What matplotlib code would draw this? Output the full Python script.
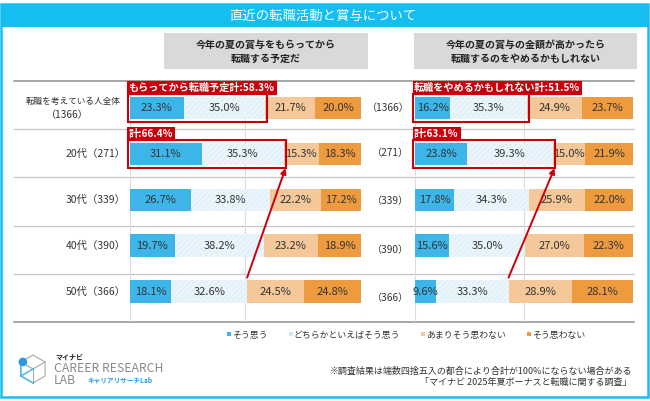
import matplotlib.pyplot as plt
from matplotlib.patches import Rectangle, Polygon, Circle
from matplotlib.lines import Line2D
import numpy as np

plt.rcParams['font.family'] = ['Noto Sans CJK JP', 'DejaVu Sans']
plt.rcParams['hatch.linewidth'] = 0.5

# ---- data ----
groups = ['転職を考えている人全体', '20代', '30代', '40代', '50代']
counts = [1366, 271, 339, 390, 366]

# 今年の夏の賞与をもらってから転職する予定だ
left_yes = [23.3, 31.1, 26.7, 19.7, 18.1]
left_maybe = [35.0, 35.3, 33.8, 38.2, 32.6]
left_rather_not = [21.7, 15.3, 22.2, 23.2, 24.5]
left_no = [20.0, 18.3, 17.2, 18.9, 24.8]

# 今年の夏の賞与の金額が高かったら転職するのをやめるかもしれない
right_yes = [16.2, 23.8, 17.8, 15.6, 9.6]
right_maybe = [35.3, 39.3, 34.3, 35.0, 33.3]
right_rather_not = [24.9, 15.0, 25.9, 27.0, 28.9]
right_no = [23.7, 21.9, 22.0, 22.3, 28.1]

title = '直近の転職活動と賞与について'
left_title = '今年の夏の賞与をもらってから\n転職する予定だ'
right_title = '今年の夏の賞与の金額が高かったら\n転職するのをやめるかもしれない'
left_prefix = ['もらってから転職予定計', '計']
right_prefix = ['転職をやめるかもしれない計', '計']
legend_labels = ['そう思う', 'どちらかといえばそう思う', 'あまりそう思わない', 'そう思わない']
notes = ['※調査結果は端数四捨五入の都合により合計が100%にならない場合がある',
         '「マイナビ 2025年夏ボーナスと転職に関する調査」']

colors = ['#3DB5E9', '#EAF5FC', '#F4C899', '#EE9B40']
RED = '#C9000B'
CYAN = '#14BEF0'

W, H = 650, 401
ROW0, STEP = 108, 45.9
TOP, BOT = 80.7, 322

fig = plt.figure(figsize=(6.5, 4.01), dpi=100)
bg = fig.add_axes([0, 0, 1, 1])
bg.set_xlim(0, W)
bg.set_ylim(H, 0)
bg.axis('off')

# frame + title bar
bg.add_patch(Rectangle((1.2, 4), 646.3, 392.5, fill=False, ec=CYAN, lw=1.8))
bg.add_patch(Rectangle((1.2, 4), 646.3, 23, color=CYAN, lw=0))
bg.text(323, 15.5, title, color='white', fontsize=9.6, ha='center', va='center')

# header boxes
bg.add_patch(Rectangle((164, 33), 204, 36, color='#D9D9D9', lw=0))
bg.add_patch(Rectangle((414, 33), 223, 36, color='#D9D9D9', lw=0))
bg.text(266, 51.5, left_title, fontsize=7.2, ha='center', va='center',
        linespacing=1.55, color='#222222', fontweight='bold')
bg.text(525.5, 51.5, right_title, fontsize=7.2, ha='center', va='center',
        linespacing=1.55, color='#222222', fontweight='bold')

# separators
seps = [80.7, 129, 177, 226, 274, 322]
for i, s in enumerate(seps):
    edge = i in (0, len(seps) - 1)
    bg.plot([14, 634], [s, s], color='#8E8E8E' if edge else '#C4C4C4',
            lw=1.1 if edge else 0.9, zorder=1)

# row labels
for i, (g, n) in enumerate(zip(groups, counts)):
    y = ROW0 + STEP * i
    if i == 0:
        bg.text(73.5, y - 7, g, fontsize=6.2, ha='center', va='center', color='#333333')
        bg.text(67.5, y + 7.5, f'（{n}）', fontsize=7.3, ha='center', va='center', color='#333333')
    else:
        bg.text(126, y, f'{g}（{n}）', fontsize=7.5, ha='right', va='center', color='#333333')

right_label_y = [108, 153, 201.5, 250, 298]
for n, y in zip(counts, right_label_y):
    bg.text(409.5, y, f'（{n}）', fontsize=7.3, ha='right', va='center', color='#333333')


def px_axes(x0, x1):
    return fig.add_axes([x0 / W, 1 - BOT / H, (x1 - x0) / W, (BOT - TOP) / H])


def draw_panel(ax, series, prefixes, scale):
    y = np.arange(len(series[0]))
    left = np.zeros(len(y))
    for k, (vals, c) in enumerate(zip(series, colors)):
        vals = np.array(vals)
        if k == 1:
            ax.barh(y, vals, left=left, height=0.49, color=c, edgecolor='#D8ECF7',
                    hatch='//////', linewidth=0, zorder=2)
        else:
            ax.barh(y, vals, left=left, height=0.49, color=c, linewidth=0, zorder=2)
        for yi, l, v in zip(y, left, vals):
            ax.text(l + v / 2, yi, f'{v:.1f}%', ha='center', va='center',
                    fontsize=8, color='#333333', zorder=5)
        left += vals
    ax.set_xlim(0, 100)
    ax.set_ylim((BOT - ROW0) / STEP, (TOP - ROW0) / STEP)
    ax.axis('off')
    for xv in (0, 50, 100):
        ax.axvline(xv, color='#DCDCDC', lw=0.8, zorder=0)

    pos = np.array(series[0]) + np.array(series[1])
    mx = 2.0 / scale
    my = 3.0 / STEP
    for r, p in enumerate(prefixes):
        ax.add_patch(Rectangle((-mx, r - 0.245 - my), pos[r] + 2 * mx, 0.49 + 2 * my,
                               fill=False, ec=RED, lw=1.5, zorder=6, clip_on=False))
        ax.annotate(f'{p}:{pos[r]:.1f}%', xy=(-mx, r - 0.245 - my), xytext=(0.6, 0.8),
                    textcoords='offset points', ha='left', va='bottom', color='white',
                    fontsize=7.3, fontweight='bold', zorder=7, annotation_clip=False,
                    bbox=dict(boxstyle='square,pad=0.12', fc=RED, ec=RED, lw=0.8))
    last = len(pos) - 1
    ax.annotate('', xy=(pos[1] + mx, 1 + 0.245 + my), xytext=(pos[last], last - 0.245 - 0.06),
                arrowprops=dict(arrowstyle='-|>', color=RED, lw=1.4, mutation_scale=8,
                                shrinkA=0, shrinkB=0), zorder=7, annotation_clip=False)


axl = px_axes(129.5, 361.5)
draw_panel(axl, [left_yes, left_maybe, left_rather_not, left_no], left_prefix, 2.32)
axr = px_axes(415, 633)
draw_panel(axr, [right_yes, right_maybe, right_rather_not, right_no], right_prefix, 2.18)

# legend
handles = [Line2D([], [], marker='s', ls='none', markersize=3.0, markeredgewidth=0,
                  markerfacecolor=c if i != 1 else '#CFE7F6') for i, c in enumerate(colors)]
leg = bg.legend(handles, legend_labels, loc='center', bbox_to_anchor=(406 / W, 1 - 335 / H),
                bbox_transform=fig.transFigure, ncol=4, frameon=False, fontsize=6.4,
                handlelength=0.5, handletextpad=0.1, columnspacing=2.3, borderpad=0)
for t in leg.get_texts():
    t.set_color('#333333')

# notes
bg.text(632, 371, notes[0], fontsize=6.5, ha='right', va='center', color='#333333')
bg.text(632, 382, notes[1], fontsize=6.5, ha='right', va='center', color='#333333')

# logo
cx, cy, R = 33, 369, 14
ang = np.deg2rad([90, 30, -30, -90, -150, 150])
hx = cx + R * np.cos(ang)
hy = cy - R * np.sin(ang)
bg.add_patch(Polygon(np.c_[hx, hy], closed=True, fill=False, ec='#A8A8A8', lw=0.8))
for j in (1, 3, 5):
    bg.plot([cx, hx[j]], [cy, hy[j]], color='#A8A8A8', lw=0.8)
bg.plot([hx[5], hx[4], hx[3]], [hy[5], hy[4], hy[3]], color='#3DB5E9', lw=1.0)
bg.plot([cx, hx[4]], [cy, hy[4]], color='#3DB5E9', lw=1.0)
bg.add_patch(Circle((hx[5] + 2, hy[5]), 3.6, color='#2A9BD8', zorder=5))
bg.text(55, 357, 'マイナビ', fontsize=5, fontweight='bold', ha='left', va='center', color='#222222')
bg.text(54, 368.5, 'CAREER RESEARCH', fontsize=8.8, ha='left', va='center', color='#8A8A8A')
bg.text(54, 380, 'LAB', fontsize=8.8, ha='left', va='center', color='#8A8A8A')
bg.text(87, 380, 'キャリアリサーチLab', fontsize=4.8, fontweight='bold', ha='left', va='center',
        color='#2A9BD8')

fig.savefig('out.png', dpi=100)
